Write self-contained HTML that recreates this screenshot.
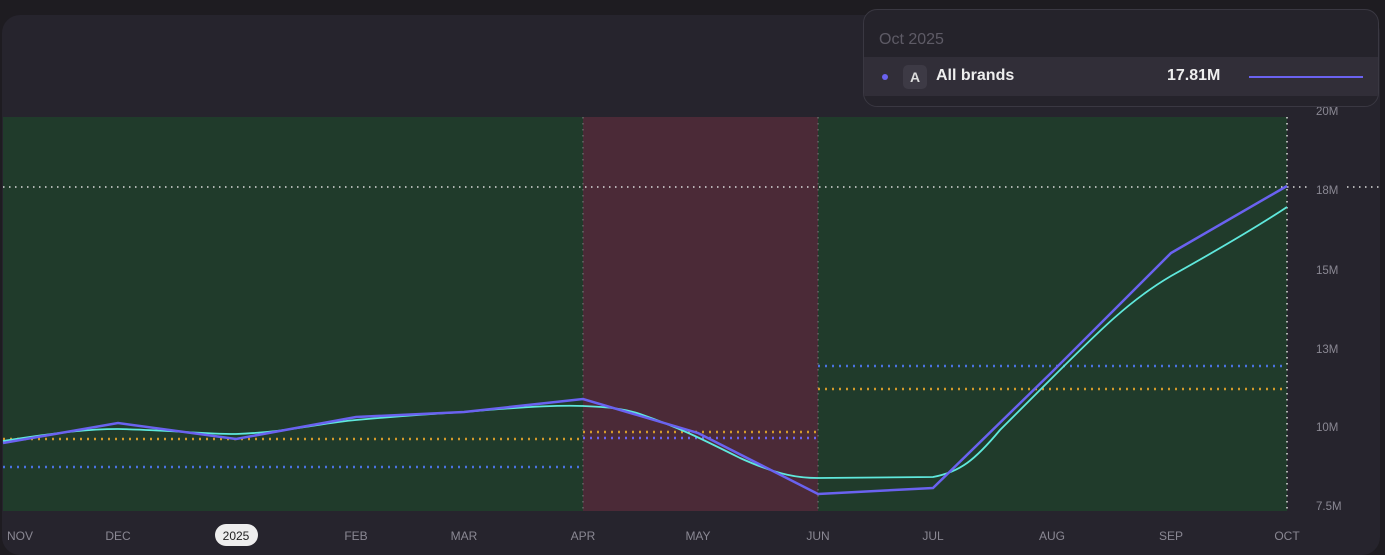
<!DOCTYPE html>
<html><head><style>
html,body{margin:0;padding:0;background:#1e1c21;width:1385px;height:549px;overflow:hidden;font-family:"Liberation Sans",sans-serif}
.card{position:absolute;left:2px;top:15px;width:1378px;height:540px;background:#26242d;border-radius:18px}
.tip{position:absolute;left:863px;top:9px;width:514px;height:96px;background:#25232b;border:1px solid #3a3842;border-radius:14px;overflow:hidden}
.tip .h{position:absolute;left:15px;top:21px;color:#5e5b66;font-size:16px}
.tip .row{position:absolute;left:0;top:47px;width:100%;height:39px;background:#312e38}
</style></head><body>
<div class="card"></div>
<svg width="1385" height="549" style="position:absolute;left:0;top:0" font-family="Liberation Sans, sans-serif">
<rect x="3" y="117" width="580" height="394" fill="#203b2b"/>
<rect x="583" y="117" width="235" height="394" fill="#4b2a37"/>
<rect x="818" y="117" width="469" height="394" fill="#203b2b"/>
<g stroke-width="1.5" stroke-dasharray="1.5 4.5" fill="none">
<line x1="583" y1="117" x2="583" y2="511" stroke="#666"/>
<line x1="818" y1="117" x2="818" y2="511" stroke="#666"/>
<line x1="1287" y1="117" x2="1287" y2="511" stroke="#ddd"/>
<line x1="3" y1="187" x2="1380" y2="187" stroke="#ddd"/>
</g>
<rect x="1311" y="180" width="34" height="16" fill="#26242d"/>
<g stroke-width="2.5" stroke-dasharray="2 5" fill="none">
<line x1="3" y1="439" x2="583" y2="439" stroke="#d39a2a"/>
<line x1="3" y1="467" x2="583" y2="467" stroke="#4a72e0"/>
<line x1="583" y1="432" x2="818" y2="432" stroke="#d39a2a"/>
<line x1="583" y1="438" x2="818" y2="438" stroke="#6a62f0"/>
<line x1="818" y1="366" x2="1287" y2="366" stroke="#4a72e0"/>
<line x1="818" y1="389" x2="1287" y2="389" stroke="#d39a2a"/>
</g>
<path d="M3,441 C60,432 90,429 118,429 C170,430 200,434 236,434 C290,432 320,423 356,420 C400,416 430,414 464,412 C520,407 560,405 583,406 C610,407 625,409 640,414 C680,428 700,438 740,458 C780,476 800,478 818,478 L933,477 C960,472 975,460 1000,430 L1052,378 C1100,330 1130,300 1171,276 C1230,243 1260,225 1287,207" stroke="#5fe8dc" stroke-width="1.8" fill="none"/>
<polyline points="3,443 118,423 236,439 356,417 464,412 583,399 698,433 818,494 933,488 1052,372 1171,253 1287,186" stroke="#6a62f0" stroke-width="2.5" fill="none"/>
<g fill="#8a8893" font-size="11.5">
<text x="1316" y="115">20M</text>
<text x="1316" y="194">18M</text>
<text x="1316" y="274">15M</text>
<text x="1316" y="353">13M</text>
<text x="1316" y="431">10M</text>
<text x="1316" y="510">7.5M</text>
</g>
<g fill="#8a8893" font-size="12" text-anchor="middle">
<text x="20" y="540">NOV</text><text x="118" y="540">DEC</text>
<text x="356" y="540">FEB</text><text x="464" y="540">MAR</text><text x="583" y="540">APR</text>
<text x="698" y="540">MAY</text><text x="818" y="540">JUN</text><text x="933" y="540">JUL</text>
<text x="1052" y="540">AUG</text><text x="1171" y="540">SEP</text><text x="1287" y="540">OCT</text>
</g>
<rect x="215" y="524" width="43" height="22" rx="11" fill="#eeeeee"/>
<text x="236" y="540" font-size="12" fill="#222" text-anchor="middle">2025</text>
</svg>
<div class="tip"><div class="h">Oct 2025</div>
<div class="row">
<div style="position:absolute;left:18px;top:17px;width:6px;height:6px;border-radius:50%;background:#6a62f0"></div>
<div style="position:absolute;left:39px;top:8px;width:24px;height:24px;border-radius:5px;background:#3d3a45;color:#ddd;font-size:14px;font-weight:bold;text-align:center;line-height:24px">A</div>
<div style="position:absolute;left:72px;top:10px;color:#eee;font-size:16px;font-weight:bold">All brands</div>
<div style="position:absolute;left:303px;top:10px;color:#eee;font-size:16px;font-weight:bold">17.81M</div>
<div style="position:absolute;left:385px;top:19px;width:114px;height:2px;background:#6a62f0"></div>
</div></div>
</body></html>
